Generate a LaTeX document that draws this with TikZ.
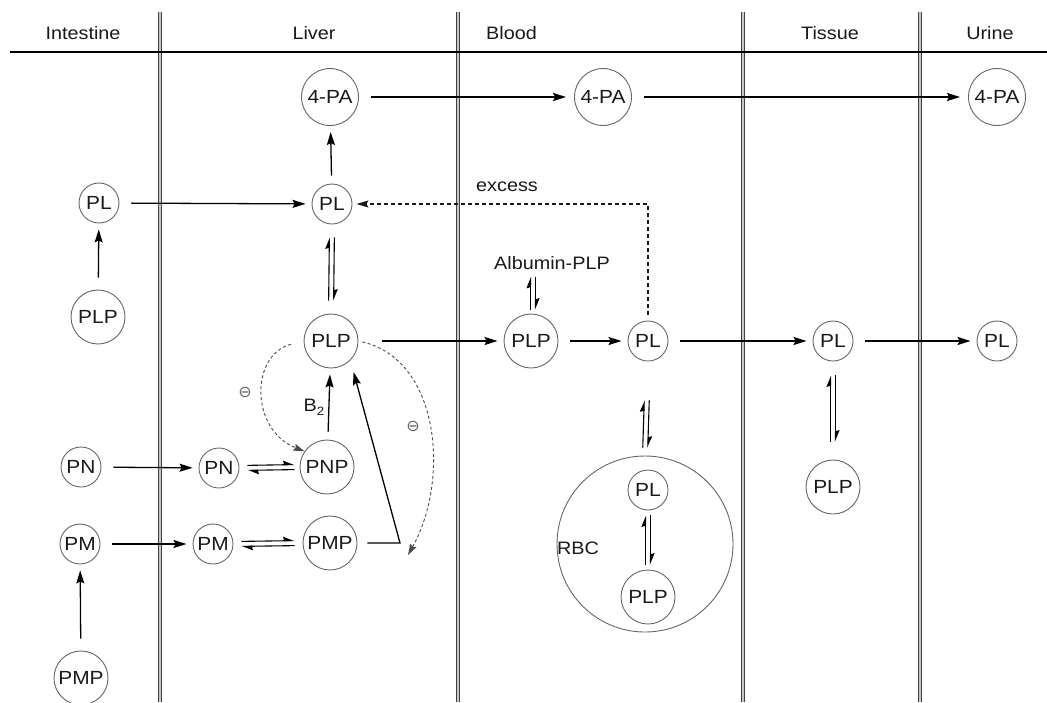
\documentclass[tikz,border=0pt]{standalone}
\usepackage{fontspec}
\setmainfont{Liberation Sans}[FakeStretch=1.1]
\newfontfamily\symfont{DejaVu Sans}
\usetikzlibrary{arrows.meta}
\begin{document}
\begin{tikzpicture}[x=1pt,y=-1pt,
  font=\fontsize{18}{20}\selectfont,
  txt/.style={text=black!90, inner sep=1pt},
  pool/.style={circle, draw=black!60, line width=0.9pt, inner sep=0pt, text=black!90,
               font=\fontsize{19}{20}\selectfont},
  sm/.style={pool, minimum size=40pt},
  lg/.style={pool, minimum size=54pt},
  xl/.style={pool, minimum size=57pt},
  flow/.style={line width=1.3pt, -{Stealth[length=13pt,width=8pt,inset=2pt]},
               shorten <=12pt, shorten >=6pt},
  fwd/.style={line width=1.1pt, -{Stealth[harpoon,length=10pt,width=8pt,inset=1pt]}},
  inh/.style={black!70, line width=0.9pt, dash pattern=on 3pt off 2.5pt,
              -{Stealth[length=11pt,width=7pt,inset=1.5pt]}},
  excessflow/.style={black!90, line width=1.1pt, dash pattern=on 4pt off 3pt,
              -{Stealth[length=12pt,width=7pt,inset=2pt]}},
  wall/.style={draw=black!75, line width=0.9pt, double=gray!45, double distance=2.6pt},
  minus/.style={text=black!60, inner sep=0pt, font=\symfont\fontsize{16}{16}\selectfont},
]

\useasboundingbox (0,0) rectangle (1047,702);

% compartment walls and header rule
\foreach \x in {160,458,743,920} \draw[wall] (\x,12) -- (\x,702);
\draw[line width=1.3pt] (10,52) -- (1047,52);

% compartment headings
\node[txt] (hInt)    at (83,33)  {Intestine};
\node[txt] (hLiver)  at (314,33) {Liver};
\node[txt, anchor=west] (hBlood) at (485,33) {Blood};
\node[txt] (hTissue) at (830,33) {Tissue};
\node[txt] (hUrine)  at (990,33) {Urine};

% intestine
\node[sm] (plI)  at (99,203)  {PL};
\node[lg] (plpI) at (98,317)  {PLP};
\node[sm] (pnI)  at (81,467)  {PN};
\node[sm] (pmI)  at (80,544)  {PM};
\node[lg] (pmpI) at (81,678)  {PMP};

% liver
\node[xl] (paL)  at (330,97)  {4-PA};
\node[sm] (plL)  at (332,204) {PL};
\node[lg] (plpL) at (331,341) {PLP};
\node[sm] (pnL)  at (219,468) {PN};
\node[lg] (pnp)  at (327,467) {PNP};
\node[sm] (pmL)  at (213,544) {PM};
\node[lg] (pmp)  at (330,543) {PMP};

% blood
\node[xl] (paB)  at (603,97)  {4-PA};
\node[lg] (plpB) at (531,341) {PLP};
\node[sm] (plB)  at (648,341) {PL};
\node[txt] (alb) at (552,263) {Albumin-PLP};
\node[txt] (exc) at (507,187) {excess};
\node[circle, draw=black!60, line width=0.9pt, minimum size=176pt, inner sep=0pt] (rbc) at (645,544) {};
\node[txt] (rbcL) at (578,548) {RBC};
\node[sm] (plR)  at (648,490) {PL};
\node[lg] (plpR) at (648,597) {PLP};

% tissue and urine
\node[sm] (plT)  at (833,341) {PL};
\node[lg] (plpT) at (833,487) {PLP};
\node[xl] (paU)  at (997,97)  {4-PA};
\node[sm] (plU)  at (997,341) {PL};

% one-way transfers
\draw[flow] (plpI) -- (plI);
\draw[flow] (plI) -- (plL);
\draw[flow] (pnI) -- (pnL);
\draw[flow] (pmI) -- (pmL);
\draw[flow] (pmpI) -- (pmI);
\draw[flow, shorten <=8pt] (plL) -- (paL);
\draw[flow, shorten >=8pt] (paL) -- (paB);
\draw[flow, shorten >=8pt] (paB) -- (paU);
\draw[flow, shorten <=24pt] (plpL) -- (plpB);
\draw[flow] (plpB) -- (plB);
\draw[flow] (plB) -- (plT);
\draw[flow] (plT) -- (plU);
\draw[flow, shorten <=8pt, shorten >=6pt] (pnp) -- node[txt, left=3pt, pos=0.45] (b2) {B\raisebox{-4pt}{\fontsize{12}{12}\selectfont 2}} (plpL);
\coordinate (bend) at (400,543);
\draw[flow, shorten <=10pt, shorten >=12pt] (pmp.east) -- (bend) -- (plpL.-45);

% surplus PL returned from blood to liver
\draw[excessflow, shorten <=6pt, shorten >=4pt] (plB.north) -- (plB.north |- plL.east) -- (plL.east);

% equilibria (paired harpoons)
\draw[fwd, shorten <=13pt, shorten >=13pt] ([xshift=-2.5pt]plpL.north) -- ([xshift=-2.5pt]plL.south);
\draw[fwd, shorten <=13pt, shorten >=13pt] ([xshift=2.5pt]plL.south) -- ([xshift=2.5pt]plpL.north);
\coordinate (albFoot) at ([xshift=2pt,yshift=-6pt]plpB.north |- alb.south);
\draw[fwd, shorten <=4pt] ([xshift=-0.5pt]plpB.north) -- ([xshift=-2.5pt]albFoot);
\draw[fwd, shorten >=4pt] ([xshift=2.5pt]albFoot) -- ([xshift=4.5pt]plpB.north);
\draw[fwd, shorten <=8pt, shorten >=39pt] ([xshift=-2.5pt]rbc.north) -- ([xshift=-2.5pt]plB.south);
\draw[fwd, shorten <=39pt, shorten >=8pt] ([xshift=2.5pt]plB.south) -- ([xshift=2.5pt]rbc.north);
\draw[fwd, shorten <=5pt, shorten >=5pt] ([xshift=-2.5pt]plpR.north) -- ([xshift=-2.5pt]plR.south);
\draw[fwd, shorten <=5pt, shorten >=5pt] ([xshift=2.5pt]plR.south) -- ([xshift=2.5pt]plpR.north);
\draw[fwd, shorten <=18pt, shorten >=14pt] ([xshift=-2.5pt]plpT.north) -- ([xshift=-2.5pt]plT.south);
\draw[fwd, shorten <=14pt, shorten >=18pt] ([xshift=2.5pt]plT.south) -- ([xshift=2.5pt]plpT.north);
\draw[fwd, shorten <=8pt, shorten >=5pt] ([yshift=2.5pt]pnL.east) -- ([yshift=2.5pt]pnp.west);
\draw[fwd, shorten <=5pt, shorten >=8pt] ([yshift=-2.5pt]pnp.west) -- ([yshift=-2.5pt]pnL.east);
\draw[fwd, shorten <=8pt, shorten >=8pt] ([yshift=2.5pt]pmL.east) -- ([yshift=2.5pt]pmp.west);
\draw[fwd, shorten <=8pt, shorten >=8pt] ([yshift=-2.5pt]pmp.west) -- ([yshift=-2.5pt]pmL.east);

% feedback inhibition by PLP
\coordinate (inhEnd) at (408,555);
\draw[inh, shorten <=13pt] (plpL.west) .. controls (250,355) and (250,430) .. (pnp.145);
\draw[inh, shorten <=4pt] (plpL.east) .. controls (440,360) and (450,480) .. (inhEnd);
\node[minus] (m1) at (245,392) {⊖};
\node[minus] (m2) at (413,426) {⊖};

\end{tikzpicture}
\end{document}
